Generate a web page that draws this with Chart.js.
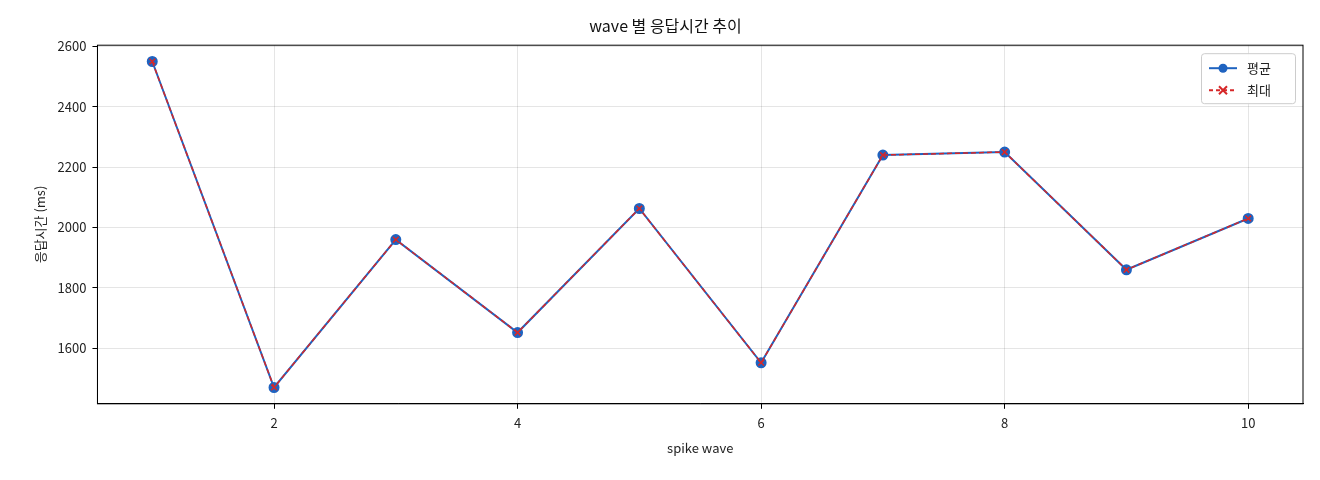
<!DOCTYPE html>
<html>
<head>
<meta charset="utf-8">
<script src="https://cdn.jsdelivr.net/npm/chart.js@4"></script>
<style>
  body { margin: 0; background: #fff; }
  #wrap { width: 1320px; height: 480px; }
</style>
</head>
<body>
<div id="wrap"><canvas id="chart" width="1320" height="480"></canvas></div>
<script>
const waves = [1, 2, 3, 4, 5, 6, 7, 8, 9, 10];
const avgMs = [2550, 1470, 1960, 1652, 2063, 1552, 2240, 2250, 1860, 2030];
const maxMs = [2550, 1470, 1960, 1652, 2063, 1552, 2240, 2250, 1860, 2030];
const xTicks = [2, 4, 6, 8, 10];
const yTicks = [1600, 1800, 2000, 2200, 2400, 2600];

const FONT = '"Noto Sans CJK KR", "Noto Sans", sans-serif';
const BLUE = '#1f63c0';
const RED = '#d62728';

// legend box inside the plot, top right
const legendBox = {
  id: 'legendBox',
  afterDraw(chart) {
    const { ctx, chartArea } = chart;
    const w = 94, h = 50;
    const x = chartArea.right - w - 8, y = chartArea.top + 8;
    ctx.save();
    ctx.fillStyle = 'rgba(255,255,255,0.9)';
    ctx.strokeStyle = '#ccc';
    ctx.lineWidth = 1;
    ctx.beginPath();
    ctx.roundRect(x + 0.5, y + 0.5, w, h, 3);
    ctx.fill();
    ctx.stroke();
    const rows = [['평균', BLUE, [], 'circle'], ['최대', RED, [4, 3], 'cross']];
    rows.forEach((r, i) => {
      const cy = y + 15 + i * 22;
      ctx.strokeStyle = r[1];
      ctx.lineWidth = 2;
      ctx.setLineDash(r[2]);
      ctx.beginPath();
      ctx.moveTo(x + 8, cy);
      ctx.lineTo(x + 36, cy);
      ctx.stroke();
      ctx.setLineDash([]);
      if (r[3] === 'circle') {
        ctx.fillStyle = r[1];
        ctx.beginPath();
        ctx.arc(x + 22, cy, 4.5, 0, Math.PI * 2);
        ctx.fill();
      } else {
        ctx.beginPath();
        ctx.moveTo(x + 18, cy - 4); ctx.lineTo(x + 26, cy + 4);
        ctx.moveTo(x + 26, cy - 4); ctx.lineTo(x + 18, cy + 4);
        ctx.stroke();
      }
      ctx.fillStyle = '#222';
      ctx.font = '13px ' + FONT;
      ctx.textBaseline = 'middle';
      ctx.fillText(r[0], x + 46, cy);
    });
    ctx.restore();
  }
};

new Chart(document.getElementById('chart'), {
  type: 'line',
  data: {
    datasets: [
      {
        label: '평균',
        order: 2,
        data: waves.map((w, i) => ({ x: w, y: avgMs[i] })),
        borderColor: BLUE,
        backgroundColor: BLUE,
        borderWidth: 2,
        pointStyle: 'circle',
        pointRadius: 4.5,
        pointHoverRadius: 4.5
      },
      {
        label: '최대',
        order: 1,
        data: waves.map((w, i) => ({ x: w, y: maxMs[i] })),
        borderColor: RED,
        backgroundColor: RED,
        borderWidth: 1.5,
        borderDash: [5, 3],
        pointStyle: 'crossRot',
        pointRadius: 4,
        pointBorderWidth: 1.5,
        pointHoverRadius: 4
      }
    ]
  },
  options: {
    responsive: false,
    animation: false,
    layout: { padding: { left: 28, right: 17, top: 10, bottom: 20 } },
    plugins: {
      legend: { display: false },
      tooltip: { enabled: false },
      title: {
        display: true,
        text: 'wave 별 응답시간 추이',
        color: '#111',
        font: { family: FONT, size: 16, weight: 'normal' },
        padding: { top: 6, bottom: 10 }
      }
    },
    scales: {
      x: {
        type: 'linear',
        min: 0.55,
        max: 10.45,
        afterBuildTicks: (axis) => { axis.ticks = xTicks.map(v => ({ value: v })); },
        ticks: { color: '#222', font: { family: FONT, size: 13 }, padding: 6, callback: v => String(v) },
        grid: { color: 'rgba(0,0,0,0.1)', tickColor: '#000', tickLength: 5 },
        border: { color: '#000', width: 1 },
        title: { display: true, text: 'spike wave', color: '#222', font: { family: FONT, size: 13 } }
      },
      y: {
        min: 1416,
        max: 2604,
        afterBuildTicks: (axis) => { axis.ticks = yTicks.map(v => ({ value: v })); },
        ticks: { color: '#222', font: { family: FONT, size: 13 }, padding: 6, callback: v => String(v) },
        grid: { color: 'rgba(0,0,0,0.1)', tickColor: '#000', tickLength: 5 },
        border: { color: '#000', width: 1 },
        title: { display: true, text: '응답시간 (ms)', color: '#222', font: { family: FONT, size: 13 } }
      }
    }
  },
  plugins: [legendBox, {
    id: 'frame',
    afterDraw(chart) {
      const { ctx, chartArea: a } = chart;
      ctx.save();
      ctx.strokeStyle = '#000';
      ctx.lineWidth = 1;
      ctx.strokeRect(a.left, a.top, a.right - a.left, a.bottom - a.top);
      ctx.restore();
    }
  }]
});
</script>
</body>
</html>
